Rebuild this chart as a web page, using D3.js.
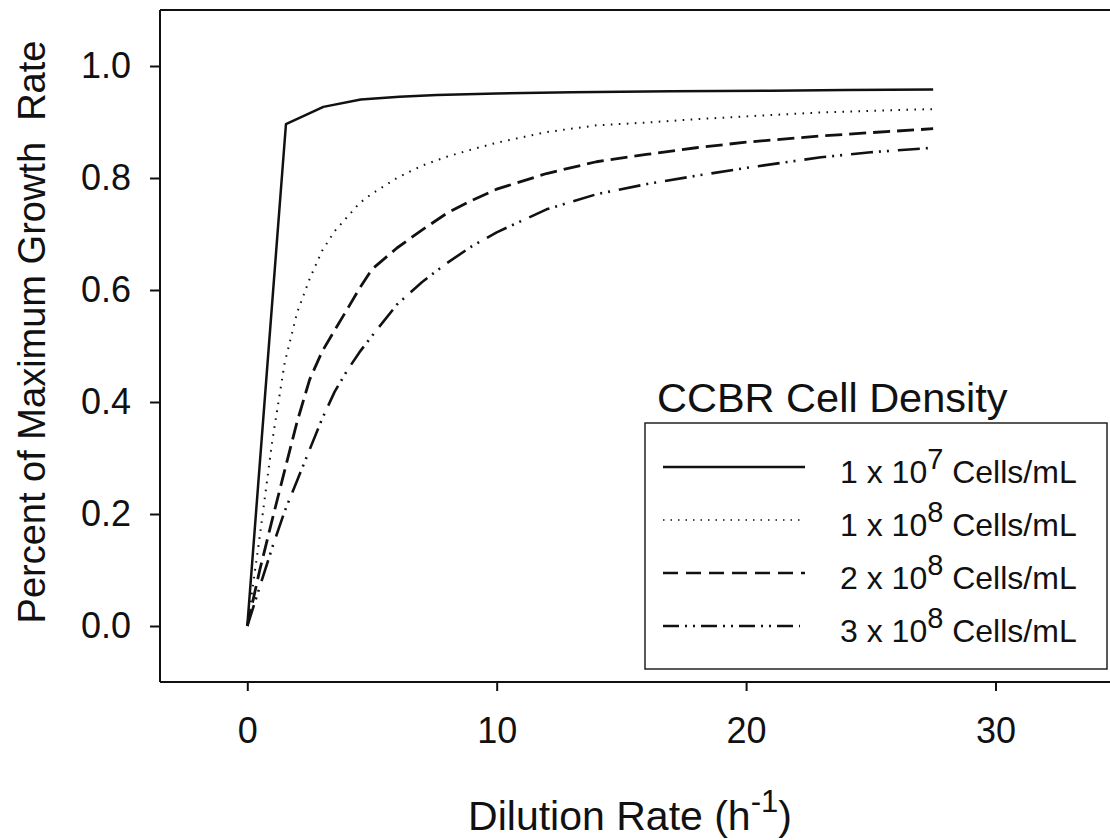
<!DOCTYPE html>
<html>
<head>
<meta charset="utf-8">
<script src="https://cdn.jsdelivr.net/npm/d3@7"></script>
<style>
  body { margin: 0; background: #fff; }
  svg { font-family: "Liberation Sans", Arial, sans-serif; }
</style>
</head>
<body>
<div class="chart"></div>
<script>
// data
const solidX = [0, 1.55, 3.05, 4.55, 6.1, 7.6, 10, 13, 17, 21, 24, 27.5]
const cells1e7 = [0, 0.896, 0.927, 0.940, 0.945, 0.948, 0.951, 0.953, 0.955, 0.956, 0.957, 0.958]

const dilution = [0, 0.5, 1, 1.5, 2, 2.5, 3, 3.5, 4, 4.5, 5, 6, 7, 8, 9, 10, 12, 14, 16, 18, 20, 23, 25, 27.5]
const cells1e8 = [0, 0.16, 0.33, 0.47, 0.56, 0.62, 0.67, 0.705, 0.73, 0.755, 0.772, 0.80, 0.822, 0.838, 0.851, 0.863, 0.882, 0.894, 0.899, 0.905, 0.910, 0.917, 0.920, 0.923]
const cells2e8 = [0, 0.10, 0.19, 0.278, 0.365, 0.44, 0.49, 0.528, 0.565, 0.603, 0.637, 0.675, 0.707, 0.737, 0.760, 0.780, 0.808, 0.829, 0.842, 0.854, 0.864, 0.875, 0.881, 0.888]
const cells3e8 = [0, 0.07, 0.14, 0.205, 0.26, 0.315, 0.37, 0.418, 0.456, 0.489, 0.518, 0.574, 0.614, 0.648, 0.678, 0.703, 0.744, 0.771, 0.789, 0.804, 0.818, 0.837, 0.846, 0.854]

const xTicks = [0, 10, 20, 30]
const yTicks = [0, 0.2, 0.4, 0.6, 0.8, 1.0]
const legendBase = ["1 x 10", "1 x 10", "2 x 10", "3 x 10"]
const legendExp = ["7", "8", "8", "8"]

let width = 1110, height = 840
let plotLeft = 160, plotTop = 10, plotBottom = 682

let svg = d3.select("div.chart").append("svg")
    .attr("width", width)
    .attr("height", height)

let x = d3.scaleLinear().domain([-3.5, 35]).range([plotLeft, plotLeft + 38.5 * 24.94])
let y = d3.scaleLinear().domain([-0.1, 1.1]).range([plotBottom, plotTop])

// frame (top + axes), right side runs off the picture
svg.append("line").attr("x1", plotLeft).attr("x2", width + 10).attr("y1", plotTop).attr("y2", plotTop)
    .attr("stroke", "#111").attr("stroke-width", 2)

let xAxis = svg.append("g")
    .attr("transform", `translate(0,${plotBottom})`)
    .call(d3.axisBottom(x).tickValues(xTicks).tickSize(9).tickPadding(26).tickFormat(d3.format("d")))
let yAxis = svg.append("g")
    .attr("transform", `translate(${plotLeft},0)`)
    .call(d3.axisLeft(y).tickValues(yTicks).tickSize(10).tickPadding(19).tickFormat(d3.format(".1f")))

;[xAxis, yAxis].forEach(g => {
  g.select(".domain").attr("stroke", "#111").attr("stroke-width", 2)
  g.selectAll(".tick line").attr("stroke", "#111").attr("stroke-width", 2)
  g.selectAll(".tick text").attr("fill", "#111").attr("font-size", 36)
    .attr("font-family", "Liberation Sans, Arial, sans-serif")
})
xAxis.select(".domain").attr("d", `M${plotLeft},0H${width + 10}`)
yAxis.select(".domain").attr("d", `M0,${plotTop}V${plotBottom}`)

// series
let styles = [
  { dash: null, w: 2.5 },
  { dash: "1.6,6.4", w: 2 },
  { dash: "17,7", w: 2.8 },
  { dash: "22,6,2,6,2,9", w: 2.6 }
]
let series = [
  solidX.map((d, i) => [d, cells1e7[i]]),
  dilution.map((d, i) => [d, cells1e8[i]]),
  dilution.map((d, i) => [d, cells2e8[i]]),
  dilution.map((d, i) => [d, cells3e8[i]])
]
let line = d3.line().x(d => x(d[0])).y(d => y(d[1]))

svg.selectAll("path.curve")
    .data(series)
    .enter()
    .append("path")
    .attr("class", "curve")
    .attr("d", line)
    .attr("fill", "none")
    .attr("stroke", "#111")
    .attr("stroke-width", (d, i) => styles[i].w)
    .attr("stroke-dasharray", (d, i) => styles[i].dash)
    .attr("stroke-linejoin", "round")

// legend
let lg = svg.append("g")
lg.append("text").attr("x", 657).attr("y", 412).attr("font-size", 41.5).attr("fill", "#111")
    .text("CCBR Cell Density")
lg.append("rect").attr("x", 645).attr("y", 423).attr("width", 462).attr("height", 246)
    .attr("fill", "#fff").attr("stroke", "#222").attr("stroke-width", 1.5)

let rows = lg.selectAll("g.row")
    .data(legendBase)
    .enter()
    .append("g")
    .attr("class", "row")
    .attr("transform", (d, i) => `translate(0,${467 + i * 53})`)

rows.append("line")
    .attr("x1", 663).attr("x2", (d, i) => i == 1 || i == 3 ? 800 : 805)
    .attr("stroke", "#111")
    .attr("stroke-width", (d, i) => i == 1 ? 1.5 : 2.4)
    .attr("stroke-dasharray", (d, i) => i == 1 ? "1.5,6" : i == 2 ? "15,8" : i == 3 ? "16,6,2,6,2,6" : null)

let lt = rows.append("text")
    .attr("x", 840).attr("y", 16)
    .attr("font-size", 32).attr("fill", "#111")
lt.append("tspan").text(d => d)
lt.append("tspan").attr("font-size", 29).attr("dy", -14).text((d, i) => legendExp[i])
lt.append("tspan").attr("dy", 14).text(" Cells/mL")

// axis titles
let xt = svg.append("text").attr("x", 630).attr("y", 830).attr("text-anchor", "middle")
    .attr("font-size", 41).attr("fill", "#111")
xt.append("tspan").text("Dilution Rate (h")
xt.append("tspan").attr("font-size", 31).attr("dy", -18).text("-1")
xt.append("tspan").attr("dy", 18).text(")")

svg.append("text")
    .attr("transform", "translate(45,332) rotate(-90)")
    .attr("text-anchor", "middle")
    .attr("font-size", 38).attr("fill", "#111")
    .style("white-space", "pre")
    .text("Percent of Maximum Growth  Rate")
</script>
</body>
</html>
